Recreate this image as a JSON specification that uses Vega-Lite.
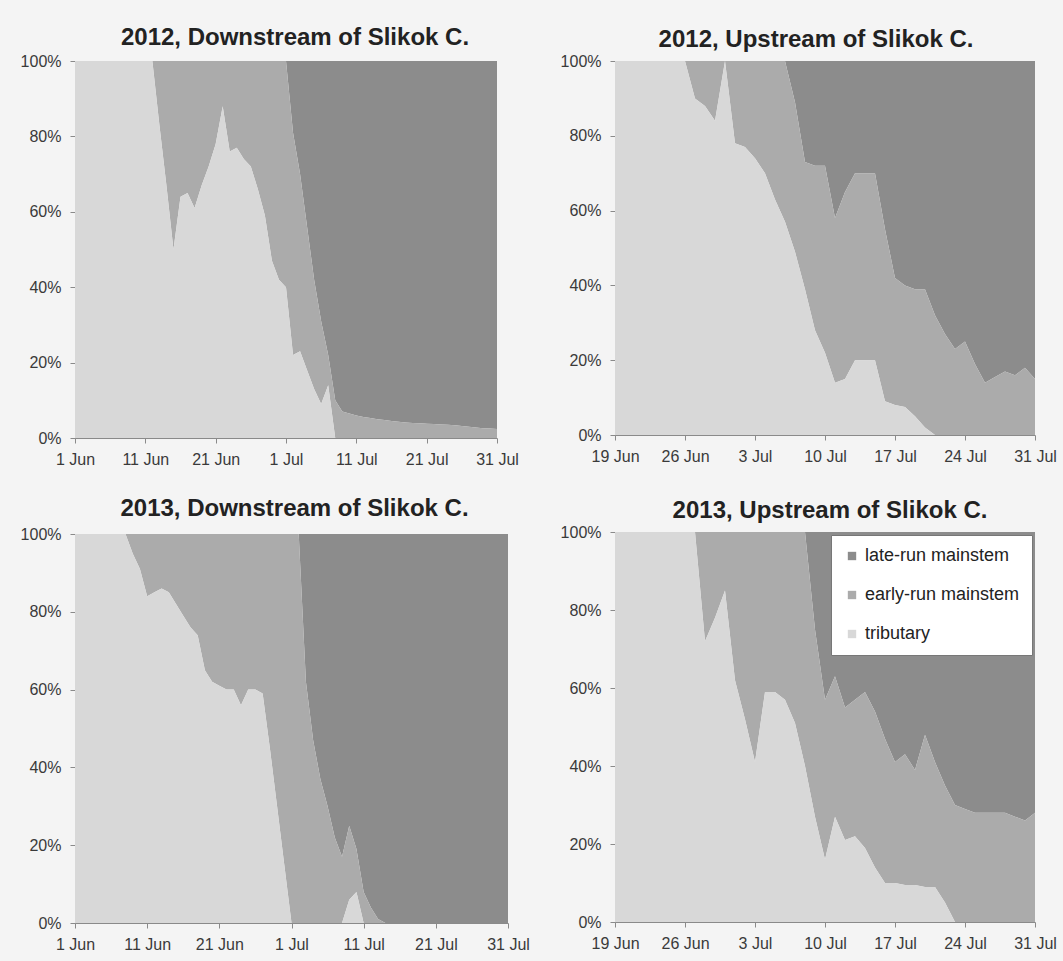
{
  "$schema": "https://vega.github.io/schema/vega-lite/v6.json",
  "background": "#f4f4f4",
  "padding": {"left": 20, "top": 26, "right": 6, "bottom": 14},
  "config": {
    "view": {"stroke": null},
    "font": "Liberation Sans",
    "axis": {"domainColor": "#8a8a8a", "tickColor": "#8a8a8a", "labelColor": "#3a3a3a", "labelFontSize": 16, "labelFont": "Liberation Sans", "grid": false, "title": null, "tickSize": 5, "labelFlush": false, "labelOverlap": false},
    "axisY": {"labelPadding": 9},
    "axisX": {"labelPadding": 8},
    "title": {"fontSize": 24, "font": "Liberation Sans", "fontWeight": "bold", "color": "#222222", "anchor": "middle"}
  },
  "datasets": {
    "p1": [
      {"d":"2012-06-01","t":100,"m":100},{"d":"2012-06-02","t":100,"m":100},{"d":"2012-06-03","t":100,"m":100},{"d":"2012-06-04","t":100,"m":100},{"d":"2012-06-05","t":100,"m":100},{"d":"2012-06-06","t":100,"m":100},{"d":"2012-06-07","t":100,"m":100},{"d":"2012-06-08","t":100,"m":100},{"d":"2012-06-09","t":100,"m":100},{"d":"2012-06-10","t":100,"m":100},{"d":"2012-06-11","t":100,"m":100},{"d":"2012-06-12","t":100,"m":100},
      {"d":"2012-06-13","t":83,"m":100},{"d":"2012-06-14","t":67,"m":100},{"d":"2012-06-15","t":50,"m":100},{"d":"2012-06-16","t":64,"m":100},{"d":"2012-06-17","t":65,"m":100},{"d":"2012-06-18","t":61,"m":100},{"d":"2012-06-19","t":67,"m":100},{"d":"2012-06-20","t":72,"m":100},{"d":"2012-06-21","t":78,"m":100},{"d":"2012-06-22","t":88,"m":100},{"d":"2012-06-23","t":76,"m":100},{"d":"2012-06-24","t":77,"m":100},{"d":"2012-06-25","t":74,"m":100},{"d":"2012-06-26","t":72,"m":100},{"d":"2012-06-27","t":66,"m":100},{"d":"2012-06-28","t":59,"m":100},{"d":"2012-06-29","t":47,"m":100},{"d":"2012-06-30","t":42,"m":100},
      {"d":"2012-07-01","t":40,"m":100},{"d":"2012-07-02","t":22,"m":81},{"d":"2012-07-03","t":23,"m":70},{"d":"2012-07-04","t":18,"m":56},{"d":"2012-07-05","t":13,"m":42},{"d":"2012-07-06","t":9,"m":31},{"d":"2012-07-07","t":14,"m":22},{"d":"2012-07-08","t":0,"m":10},{"d":"2012-07-09","t":0,"m":7},{"d":"2012-07-10","t":0,"m":6.5},{"d":"2012-07-11","t":0,"m":6},{"d":"2012-07-12","t":0,"m":5.6},{"d":"2012-07-13","t":0,"m":5.3},{"d":"2012-07-14","t":0,"m":5},{"d":"2012-07-15","t":0,"m":4.8},{"d":"2012-07-16","t":0,"m":4.5},{"d":"2012-07-17","t":0,"m":4.3},{"d":"2012-07-18","t":0,"m":4.1},{"d":"2012-07-19","t":0,"m":4},{"d":"2012-07-20","t":0,"m":3.9},{"d":"2012-07-21","t":0,"m":3.8},{"d":"2012-07-22","t":0,"m":3.7},{"d":"2012-07-23","t":0,"m":3.6},{"d":"2012-07-24","t":0,"m":3.5},{"d":"2012-07-25","t":0,"m":3.4},{"d":"2012-07-26","t":0,"m":3.2},{"d":"2012-07-27","t":0,"m":3},{"d":"2012-07-28","t":0,"m":2.8},{"d":"2012-07-29","t":0,"m":2.6},{"d":"2012-07-30","t":0,"m":2.5},{"d":"2012-07-31","t":0,"m":2.4}
    ],
    "p2": [
      {"d":"2012-06-19","t":100,"m":100},{"d":"2012-06-20","t":100,"m":100},{"d":"2012-06-21","t":100,"m":100},{"d":"2012-06-22","t":100,"m":100},{"d":"2012-06-23","t":100,"m":100},{"d":"2012-06-24","t":100,"m":100},{"d":"2012-06-25","t":100,"m":100},{"d":"2012-06-26","t":100,"m":100},
      {"d":"2012-06-27","t":90,"m":100},{"d":"2012-06-28","t":88,"m":100},{"d":"2012-06-29","t":84,"m":100},{"d":"2012-06-30","t":100,"m":100},
      {"d":"2012-07-01","t":78,"m":100},{"d":"2012-07-02","t":77,"m":100},{"d":"2012-07-03","t":74,"m":100},{"d":"2012-07-04","t":70,"m":100},{"d":"2012-07-05","t":63,"m":100},{"d":"2012-07-06","t":57,"m":100},{"d":"2012-07-07","t":49,"m":89},{"d":"2012-07-08","t":39,"m":73},{"d":"2012-07-09","t":28,"m":72},{"d":"2012-07-10","t":22,"m":72},{"d":"2012-07-11","t":14,"m":58},{"d":"2012-07-12","t":15,"m":65},{"d":"2012-07-13","t":20,"m":70},{"d":"2012-07-14","t":20,"m":70},{"d":"2012-07-15","t":20,"m":70},{"d":"2012-07-16","t":9,"m":55},{"d":"2012-07-17","t":8,"m":42},{"d":"2012-07-18","t":7.5,"m":40},{"d":"2012-07-19","t":5,"m":39},{"d":"2012-07-20","t":2,"m":39},{"d":"2012-07-21","t":0,"m":32},{"d":"2012-07-22","t":0,"m":27},{"d":"2012-07-23","t":0,"m":23},{"d":"2012-07-24","t":0,"m":25},{"d":"2012-07-25","t":0,"m":19},{"d":"2012-07-26","t":0,"m":14},{"d":"2012-07-27","t":0,"m":15.5},{"d":"2012-07-28","t":0,"m":17},{"d":"2012-07-29","t":0,"m":16},{"d":"2012-07-30","t":0,"m":18},{"d":"2012-07-31","t":0,"m":15}
    ],
    "p3": [
      {"d":"2013-06-01","t":100,"m":100},{"d":"2013-06-02","t":100,"m":100},{"d":"2013-06-03","t":100,"m":100},{"d":"2013-06-04","t":100,"m":100},{"d":"2013-06-05","t":100,"m":100},{"d":"2013-06-06","t":100,"m":100},{"d":"2013-06-07","t":100,"m":100},{"d":"2013-06-08","t":100,"m":100},
      {"d":"2013-06-09","t":95,"m":100},{"d":"2013-06-10","t":91,"m":100},{"d":"2013-06-11","t":84,"m":100},{"d":"2013-06-12","t":85,"m":100},{"d":"2013-06-13","t":86,"m":100},{"d":"2013-06-14","t":85,"m":100},{"d":"2013-06-15","t":82,"m":100},{"d":"2013-06-16","t":79,"m":100},{"d":"2013-06-17","t":76,"m":100},{"d":"2013-06-18","t":74,"m":100},{"d":"2013-06-19","t":65,"m":100},{"d":"2013-06-20","t":62,"m":100},{"d":"2013-06-21","t":61,"m":100},{"d":"2013-06-22","t":60,"m":100},{"d":"2013-06-23","t":60,"m":100},{"d":"2013-06-24","t":56,"m":100},{"d":"2013-06-25","t":60,"m":100},{"d":"2013-06-26","t":60,"m":100},{"d":"2013-06-27","t":59,"m":100},{"d":"2013-06-28","t":45,"m":100},{"d":"2013-06-29","t":30,"m":100},{"d":"2013-06-30","t":15,"m":100},
      {"d":"2013-07-01","t":0,"m":100},{"d":"2013-07-02","t":0,"m":100},{"d":"2013-07-03","t":0,"m":62},{"d":"2013-07-04","t":0,"m":47},{"d":"2013-07-05","t":0,"m":37},{"d":"2013-07-06","t":0,"m":30},{"d":"2013-07-07","t":0,"m":22},{"d":"2013-07-08","t":0,"m":17},{"d":"2013-07-09","t":6,"m":25},{"d":"2013-07-10","t":8,"m":19},{"d":"2013-07-11","t":0,"m":8},{"d":"2013-07-12","t":0,"m":4},{"d":"2013-07-13","t":0,"m":1},{"d":"2013-07-14","t":0,"m":0},{"d":"2013-07-15","t":0,"m":0},{"d":"2013-07-16","t":0,"m":0},{"d":"2013-07-17","t":0,"m":0},{"d":"2013-07-18","t":0,"m":0},{"d":"2013-07-19","t":0,"m":0},{"d":"2013-07-20","t":0,"m":0},{"d":"2013-07-21","t":0,"m":0},{"d":"2013-07-22","t":0,"m":0},{"d":"2013-07-23","t":0,"m":0},{"d":"2013-07-24","t":0,"m":0},{"d":"2013-07-25","t":0,"m":0},{"d":"2013-07-26","t":0,"m":0},{"d":"2013-07-27","t":0,"m":0},{"d":"2013-07-28","t":0,"m":0},{"d":"2013-07-29","t":0,"m":0},{"d":"2013-07-30","t":0,"m":0},{"d":"2013-07-31","t":0,"m":0}
    ],
    "p4": [
      {"d":"2013-06-19","t":100,"m":100},{"d":"2013-06-20","t":100,"m":100},{"d":"2013-06-21","t":100,"m":100},{"d":"2013-06-22","t":100,"m":100},{"d":"2013-06-23","t":100,"m":100},{"d":"2013-06-24","t":100,"m":100},{"d":"2013-06-25","t":100,"m":100},{"d":"2013-06-26","t":100,"m":100},{"d":"2013-06-27","t":100,"m":100},
      {"d":"2013-06-28","t":72,"m":100},{"d":"2013-06-29","t":78,"m":100},{"d":"2013-06-30","t":85,"m":100},
      {"d":"2013-07-01","t":62,"m":100},{"d":"2013-07-02","t":52,"m":100},{"d":"2013-07-03","t":41,"m":100},{"d":"2013-07-04","t":59,"m":100},{"d":"2013-07-05","t":59,"m":100},{"d":"2013-07-06","t":57,"m":100},{"d":"2013-07-07","t":51,"m":100},{"d":"2013-07-08","t":40,"m":100},{"d":"2013-07-09","t":27,"m":75},{"d":"2013-07-10","t":16,"m":57},{"d":"2013-07-11","t":27,"m":63},{"d":"2013-07-12","t":21,"m":55},{"d":"2013-07-13","t":22,"m":57},{"d":"2013-07-14","t":19,"m":59},{"d":"2013-07-15","t":14,"m":54},{"d":"2013-07-16","t":10,"m":47},{"d":"2013-07-17","t":10,"m":41},{"d":"2013-07-18","t":9.5,"m":43},{"d":"2013-07-19","t":9.5,"m":39},{"d":"2013-07-20","t":9,"m":48},{"d":"2013-07-21","t":9,"m":41},{"d":"2013-07-22","t":5,"m":35},{"d":"2013-07-23","t":0,"m":30},{"d":"2013-07-24","t":0,"m":29},{"d":"2013-07-25","t":0,"m":28},{"d":"2013-07-26","t":0,"m":28},{"d":"2013-07-27","t":0,"m":28},{"d":"2013-07-28","t":0,"m":28},{"d":"2013-07-29","t":0,"m":27},{"d":"2013-07-30","t":0,"m":26},{"d":"2013-07-31","t":0,"m":28}
    ]
  },
  "resolve": {"scale": {"color": "independent"}, "legend": {"color": "independent"}},
  "spacing": 30,
  "columns": 2,
  "align": "none",
  "concat": [
    {
      "vconcat": [
        {
          "title": {"text": "2012, Downstream of Slikok C.", "offset": 3, "dx": 9},
          "width": 422, "height": 377,
          "data": {"name": "p1"},
          "layer": [
            {"mark": {"type": "area"}, "encoding": {
              "x": {"field": "d", "type": "temporal", "scale": {"type": "utc", "domain": [{"year": 2012, "month": 6, "date": 1, "utc": true}, {"year": 2012, "month": 7, "date": 31, "utc": true}]}, "axis": {"format": "%-d %b", "values": [{"year": 2012, "month": 6, "date": 1, "utc": true}, {"year": 2012, "month": 6, "date": 11, "utc": true}, {"year": 2012, "month": 6, "date": 21, "utc": true}, {"year": 2012, "month": 7, "date": 1, "utc": true}, {"year": 2012, "month": 7, "date": 11, "utc": true}, {"year": 2012, "month": 7, "date": 21, "utc": true}, {"year": 2012, "month": 7, "date": 31, "utc": true}]}},
              "y": {"field": "m", "type": "quantitative", "scale": {"domain": [0, 100], "nice": false}, "axis": {"values": [0, 20, 40, 60, 80, 100], "labelExpr": "datum.value + '%'"}},
              "y2": {"datum": 100},
              "color": {"datum": "late-run mainstem", "type": "nominal", "scale": {"domain": ["late-run mainstem", "early-run mainstem", "tributary"], "range": ["#8c8c8c", "#ababab", "#d8d8d8"]}, "legend": null}
            }},
            {"mark": {"type": "area"}, "encoding": {
              "x": {"field": "d", "type": "temporal"},
              "y": {"field": "t", "type": "quantitative"},
              "y2": {"field": "m"},
              "color": {"datum": "early-run mainstem", "type": "nominal", "legend": null}
            }},
            {"mark": {"type": "area"}, "encoding": {
              "x": {"field": "d", "type": "temporal"},
              "y": {"field": "t", "type": "quantitative"},
              "y2": {"datum": 0},
              "color": {"datum": "tributary", "type": "nominal", "legend": null}
            }}
          ]
        },
        {
          "title": {"text": "2013, Downstream of Slikok C.", "offset": 5, "dx": 3},
          "width": 433, "height": 389,
          "data": {"name": "p3"},
          "layer": [
            {"mark": {"type": "area"}, "encoding": {
              "x": {"field": "d", "type": "temporal", "scale": {"type": "utc", "domain": [{"year": 2013, "month": 6, "date": 1, "utc": true}, {"year": 2013, "month": 7, "date": 31, "utc": true}]}, "axis": {"format": "%-d %b", "values": [{"year": 2013, "month": 6, "date": 1, "utc": true}, {"year": 2013, "month": 6, "date": 11, "utc": true}, {"year": 2013, "month": 6, "date": 21, "utc": true}, {"year": 2013, "month": 7, "date": 1, "utc": true}, {"year": 2013, "month": 7, "date": 11, "utc": true}, {"year": 2013, "month": 7, "date": 21, "utc": true}, {"year": 2013, "month": 7, "date": 31, "utc": true}]}},
              "y": {"field": "m", "type": "quantitative", "scale": {"domain": [0, 100], "nice": false}, "axis": {"values": [0, 20, 40, 60, 80, 100], "labelExpr": "datum.value + '%'"}},
              "y2": {"datum": 100},
              "color": {"datum": "late-run mainstem", "type": "nominal", "scale": {"domain": ["late-run mainstem", "early-run mainstem", "tributary"], "range": ["#8c8c8c", "#ababab", "#d8d8d8"]}, "legend": null}
            }},
            {"mark": {"type": "area"}, "encoding": {
              "x": {"field": "d", "type": "temporal"},
              "y": {"field": "t", "type": "quantitative"},
              "y2": {"field": "m"},
              "color": {"datum": "early-run mainstem", "type": "nominal", "legend": null}
            }},
            {"mark": {"type": "area"}, "encoding": {
              "x": {"field": "d", "type": "temporal"},
              "y": {"field": "t", "type": "quantitative"},
              "y2": {"datum": 0},
              "color": {"datum": "tributary", "type": "nominal", "legend": null}
            }}
          ]
        }
      ],
      "spacing": 96,
      "bounds": "flush",
      "resolve": {"scale": {"color": "independent"}, "legend": {"color": "independent"}}
    },
    {
      "vconcat": [
        {
          "title": {"text": "2012, Upstream of Slikok C.", "offset": 1, "dx": -9},
          "width": 420, "height": 374,
          "data": {"name": "p2"},
          "layer": [
            {"mark": {"type": "area"}, "encoding": {
              "x": {"field": "d", "type": "temporal", "scale": {"type": "utc", "domain": [{"year": 2012, "month": 6, "date": 19, "utc": true}, {"year": 2012, "month": 7, "date": 31, "utc": true}]}, "axis": {"format": "%-d %b", "values": [{"year": 2012, "month": 6, "date": 19, "utc": true}, {"year": 2012, "month": 6, "date": 26, "utc": true}, {"year": 2012, "month": 7, "date": 3, "utc": true}, {"year": 2012, "month": 7, "date": 10, "utc": true}, {"year": 2012, "month": 7, "date": 17, "utc": true}, {"year": 2012, "month": 7, "date": 24, "utc": true}, {"year": 2012, "month": 7, "date": 31, "utc": true}]}},
              "y": {"field": "m", "type": "quantitative", "scale": {"domain": [0, 100], "nice": false}, "axis": {"values": [0, 20, 40, 60, 80, 100], "labelExpr": "datum.value + '%'"}},
              "y2": {"datum": 100},
              "color": {"datum": "late-run mainstem", "type": "nominal", "scale": {"domain": ["late-run mainstem", "early-run mainstem", "tributary"], "range": ["#8c8c8c", "#ababab", "#d8d8d8"]}, "legend": null}
            }},
            {"mark": {"type": "area"}, "encoding": {
              "x": {"field": "d", "type": "temporal"},
              "y": {"field": "t", "type": "quantitative"},
              "y2": {"field": "m"},
              "color": {"datum": "early-run mainstem", "type": "nominal", "legend": null}
            }},
            {"mark": {"type": "area"}, "encoding": {
              "x": {"field": "d", "type": "temporal"},
              "y": {"field": "t", "type": "quantitative"},
              "y2": {"datum": 0},
              "color": {"datum": "tributary", "type": "nominal", "legend": null}
            }}
          ]
        },
        {
          "title": {"text": "2013, Upstream of Slikok C.", "offset": 1, "dx": 5},
          "width": 420, "height": 390,
          "data": {"name": "p4"},
          "layer": [
            {"mark": {"type": "area"}, "encoding": {
              "x": {"field": "d", "type": "temporal", "scale": {"type": "utc", "domain": [{"year": 2013, "month": 6, "date": 19, "utc": true}, {"year": 2013, "month": 7, "date": 31, "utc": true}]}, "axis": {"format": "%-d %b", "values": [{"year": 2013, "month": 6, "date": 19, "utc": true}, {"year": 2013, "month": 6, "date": 26, "utc": true}, {"year": 2013, "month": 7, "date": 3, "utc": true}, {"year": 2013, "month": 7, "date": 10, "utc": true}, {"year": 2013, "month": 7, "date": 17, "utc": true}, {"year": 2013, "month": 7, "date": 24, "utc": true}, {"year": 2013, "month": 7, "date": 31, "utc": true}]}},
              "y": {"field": "m", "type": "quantitative", "scale": {"domain": [0, 100], "nice": false}, "axis": {"values": [0, 20, 40, 60, 80, 100], "labelExpr": "datum.value + '%'"}},
              "y2": {"datum": 100},
              "color": {"datum": "late-run mainstem", "type": "nominal", "scale": {"domain": ["late-run mainstem", "early-run mainstem", "tributary"], "range": ["#8c8c8c", "#ababab", "#d8d8d8"]}, "legend": {"orient": "top-right", "offset": 3, "title": null, "fillColor": "#ffffff", "strokeColor": "#777777", "padding": 12, "rowPadding": 21, "labelFontSize": 18, "labelColor": "#222222", "labelFont": "Liberation Sans", "symbolType": "square", "symbolSize": 70, "symbolStrokeWidth": 0, "labelOffset": 4}}
            }},
            {"mark": {"type": "area"}, "encoding": {
              "x": {"field": "d", "type": "temporal"},
              "y": {"field": "t", "type": "quantitative"},
              "y2": {"field": "m"},
              "color": {"datum": "early-run mainstem", "type": "nominal"}
            }},
            {"mark": {"type": "area"}, "encoding": {
              "x": {"field": "d", "type": "temporal"},
              "y": {"field": "t", "type": "quantitative"},
              "y2": {"datum": 0},
              "color": {"datum": "tributary", "type": "nominal"}
            }}
          ]
        }
      ],
      "spacing": 97,
      "bounds": "flush",
      "resolve": {"scale": {"color": "independent"}, "legend": {"color": "independent"}}
    }
  ]
}
